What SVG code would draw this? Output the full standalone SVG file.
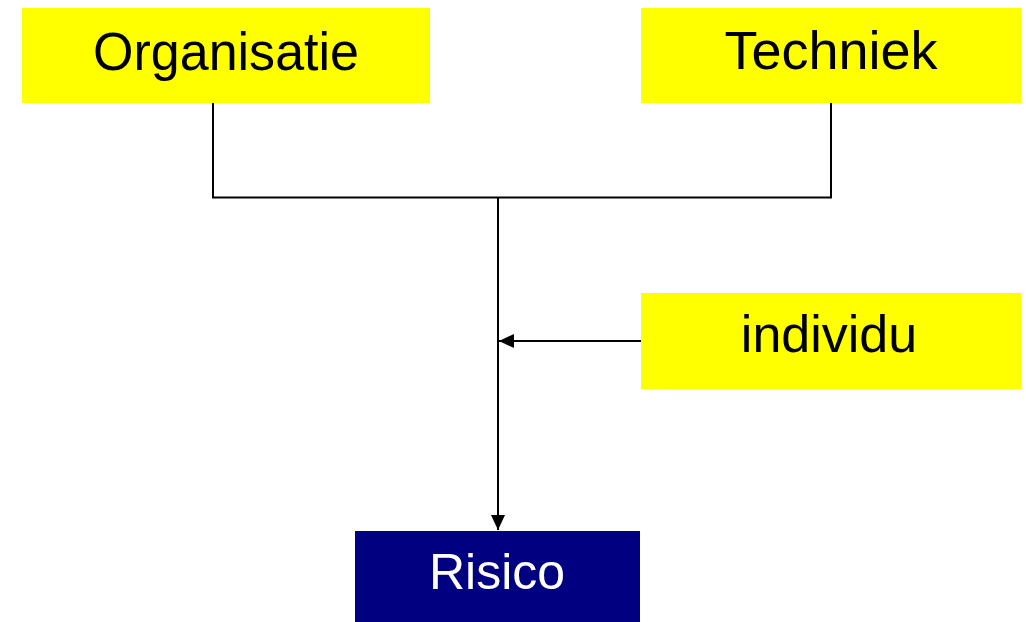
<svg xmlns="http://www.w3.org/2000/svg" width="1026" height="622" viewBox="0 0 1026 622">
<style>
.box{fill:#ffff00}
.dark{fill:#000080}
.t{font-family:"Liberation Sans",Arial,sans-serif;font-size:54px;text-anchor:middle;fill:#000}
.tw{font-family:"Liberation Sans",Arial,sans-serif;font-size:50px;text-anchor:middle;fill:#fff}
.c{stroke:#000;stroke-width:2;fill:none}
</style>
<defs>
<marker id="ah" markerWidth="15" markerHeight="14" refX="15" refY="7" orient="auto" markerUnits="userSpaceOnUse">
<path d="M0,0 L15,7 L0,14 Z" fill="#000"/>
</marker>
</defs>
<rect width="1026" height="622" fill="#fff"/>
<g id="connectors">
<polyline class="c" points="213,103 213,197.5 831,197.5 831,103"/>
<line class="c" x1="498" y1="197.5" x2="498" y2="530" marker-end="url(#ah)"/>
<line class="c" x1="641" y1="341" x2="499" y2="341" marker-end="url(#ah)"/>
</g>
<g id="organisatie">
<rect class="box" x="22" y="8" width="408" height="95"/>
<text class="t" x="226" y="70" textLength="266" lengthAdjust="spacingAndGlyphs">Organisatie</text>
</g>
<g id="techniek">
<rect class="box" x="641" y="8" width="380" height="95"/>
<text class="t" x="831" y="69">Techniek</text>
</g>
<g id="individu">
<rect class="box" x="641" y="293" width="380" height="96"/>
<text class="t" x="829" y="352" style="font-size:52px">individu</text>
</g>
<g id="risico">
<rect class="dark" x="355" y="531" width="285" height="91"/>
<text class="tw" x="497" y="589">Risico</text>
</g>
</svg>
